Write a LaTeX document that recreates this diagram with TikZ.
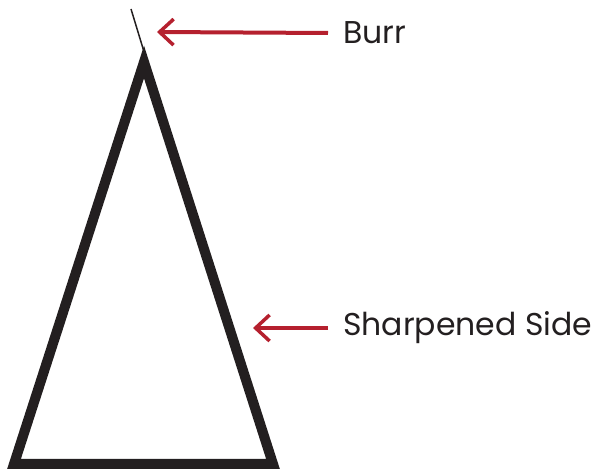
\documentclass[tikz,border=0pt]{standalone}
\usepackage{fontspec}
\setmainfont{Poppins}
\usetikzlibrary{arrows.meta}
\definecolor{burrred}{HTML}{B5202E}
\definecolor{ink}{HTML}{231F20}
\tikzset{
  edgeline/.style={draw=ink, line width=10pt, line join=miter},
  pointer/.style={draw=burrred, line width=4pt, -{Straight Barb[length=14pt,width=26pt,line width=3.5pt]}},
  lbl/.style={anchor=west, inner sep=0pt, font=\fontsize{31.5}{36}\selectfont, text=ink}
}
\begin{document}
\begin{tikzpicture}[x=1pt,y=-1pt]
\useasboundingbox (0,0) rectangle (595,470);
\coordinate (apex) at (144,62);
\coordinate (bl) at (14,464);
\coordinate (br) at (273,464);
\draw[edgeline] (apex) -- (br) -- (bl) -- cycle;
\coordinate (burrtop) at (131,9);
\coordinate (burrbot) at (145,55);
\draw[ink, line width=1.5pt] (burrtop) -- (burrbot);
\node[lbl] (burr) at (343,33) {Burr};
\node[lbl] (side) at (343,328) {Sharpened Side};
\coordinate (burrtip) at (157,32);
\coordinate (sidetip) at (253,328);
\draw[pointer] (burr.west) ++(-15,0) -- (burrtip);
\draw[pointer] (side.west) ++(-15,0) -- (sidetip);
\end{tikzpicture}
\end{document}
